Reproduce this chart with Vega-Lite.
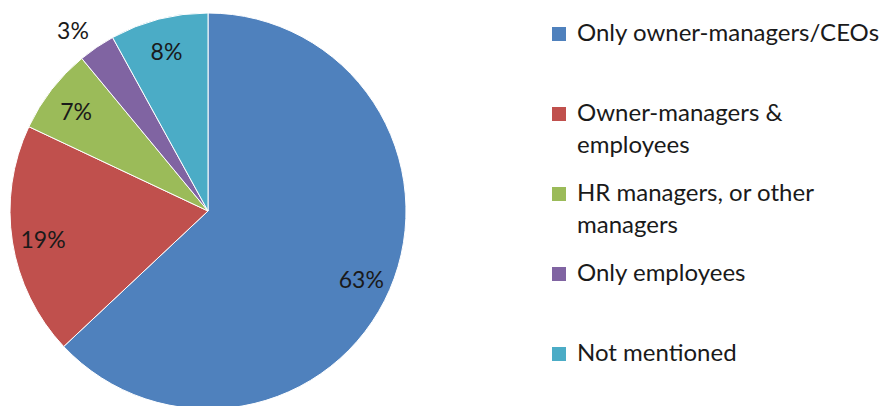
{
  "$schema": "https://vega.github.io/schema/vega-lite/v6.json",
  "width": 416,
  "height": 422,
  "autosize": {"type": "none"},
  "padding": {"left": 0, "top": 0, "right": 465, "bottom": 0},
  "background": "white",
  "config": {
    "view": {"stroke": null},
    "font": "Lato",
    "style": {"guide-label": {"lineHeight": 32}}
  },
  "data": {
    "values": [
      {"category": "Only owner-managers/CEOs", "value": 63, "rank": 1, "label": "63%"},
      {"category": "Owner-managers & employees", "value": 19, "rank": 2, "label": "19%"},
      {"category": "HR managers, or other managers", "value": 7, "rank": 3, "label": "7%"},
      {"category": "Only employees", "value": 3, "rank": 4, "label": "3%"},
      {"category": "Not mentioned", "value": 8, "rank": 5, "label": "8%"}
    ]
  },
  "encoding": {
    "theta": {"field": "value", "type": "quantitative", "stack": true},
    "order": {"field": "rank", "type": "quantitative"}
  },
  "layer": [
    {
      "mark": {"type": "arc", "outerRadius": 198, "stroke": "white", "strokeWidth": 1},
      "encoding": {
        "color": {
          "field": "category",
          "type": "nominal",
          "sort": null,
          "scale": {
            "domain": ["Only owner-managers/CEOs", "Owner-managers & employees", "HR managers, or other managers", "Only employees", "Not mentioned"],
            "range": ["#4F81BD", "#C0504D", "#9BBB59", "#8064A2", "#4BACC6"]
          },
          "legend": {
            "orient": "none",
            "legendX": 547,
            "legendY": 22,
            "title": null,
            "symbolType": "square",
            "symbolSize": 196,
            "symbolStrokeWidth": 0,
            "symbolOpacity": 1,
            "labelFontSize": 24,
            "labelFont": "Lato",
            "labelColor": "#1a1a1a",
            "labelLimit": 400,
            "labelOffset": 6,
            "rowPadding": 24,
            "labelExpr": "datum.label == 'Owner-managers & employees' ? ['Owner-managers &', 'employees'] : datum.label == 'HR managers, or other managers' ? ['HR managers, or other', 'managers'] : [datum.label, '']",
            "labelBaseline": "middle",
            "encode": {"labels": {"update": {"lineHeight": {"value": 32}}}}
          }
        }
      }
    },
    {
      "mark": {"type": "text", "fontSize": 23, "font": "Lato", "fill": "#1a1a1a", "radius": 167, "dy": 4},
      "encoding": {
        "text": {"condition": {"test": "datum.value < 5", "value": ""}, "field": "label", "type": "nominal"}
      }
    },
    {
      "mark": {"type": "text", "fontSize": 23, "font": "Lato", "fill": "#1a1a1a", "radius": 226, "dy": 8, "dx": -8},
      "encoding": {
        "text": {"condition": {"test": "datum.value >= 5", "value": ""}, "field": "label", "type": "nominal"}
      }
    }
  ]
}
